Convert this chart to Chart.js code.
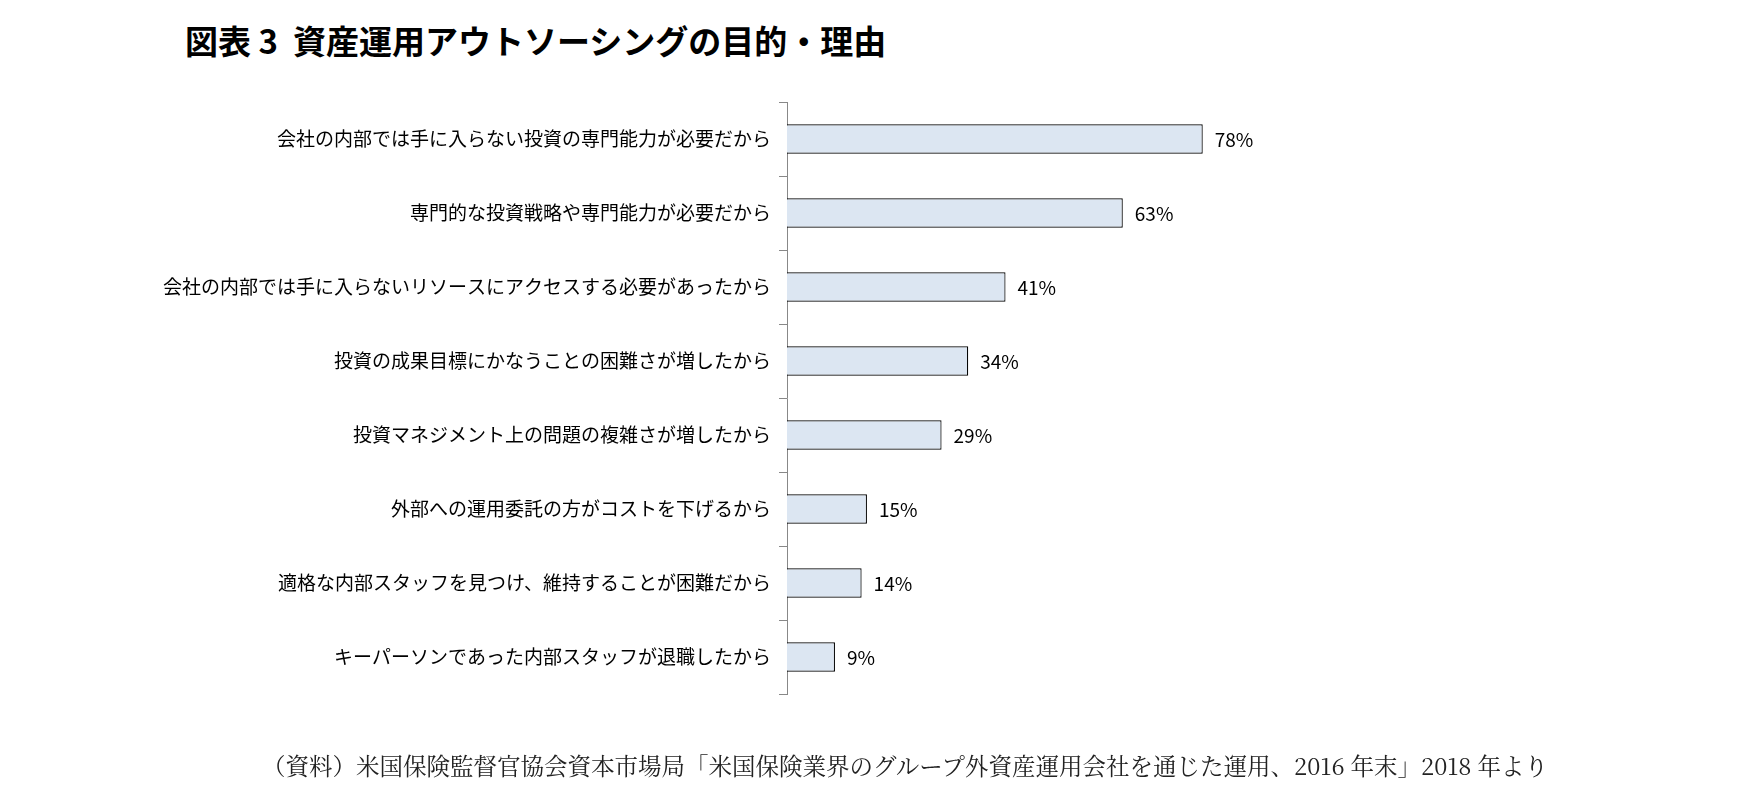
<!DOCTYPE html>
<html lang="ja">
<head>
<meta charset="UTF-8">
<title>資産運用アウトソーシングの目的・理由</title>
<script src="https://cdn.jsdelivr.net/npm/chart.js"></script>
<style>
  body { margin: 0; background: #fff; width: 1739px; height: 798px; position: relative; overflow: hidden; font-family: "Noto Sans CJK JP", sans-serif; }
  #title { position: absolute; left: 185px; top: 16px; font-size: 33px; font-weight: bold; color: #000; }
  #note { position: absolute; left: 262px; top: 748px; font-size: 23.5px; color: #222; font-family: "Noto Serif CJK JP", "Noto Sans CJK JP", serif; }
  #wrap { position: absolute; left: 0; top: 0; width: 1739px; height: 798px; }
</style>
</head>
<body>
<div id="title">図表 3&nbsp; 資産運用アウトソーシングの目的・理由</div>
<div id="wrap"><canvas id="c" width="1739" height="798"></canvas></div>
<div id="note">（資料）米国保険監督官協会資本市場局「米国保険業界のグループ外資産運用会社を通じた運用、2016 年末」2018 年より</div>
<script>
const reasons = [
  "会社の内部では手に入らない投資の専門能力が必要だから",
  "専門的な投資戦略や専門能力が必要だから",
  "会社の内部では手に入らないリソースにアクセスする必要があったから",
  "投資の成果目標にかなうことの困難さが増したから",
  "投資マネジメント上の問題の複雑さが増したから",
  "外部への運用委託の方がコストを下げるから",
  "適格な内部スタッフを見つけ、維持することが困難だから",
  "キーパーソンであった内部スタッフが退職したから"
];
const shares = [78, 63, 41, 34, 29, 15, 14, 9];

const valueLabels = {
  id: 'valueLabels',
  afterDatasetsDraw(chart) {
    const ctx = chart.ctx;
    ctx.save();
    ctx.font = '19px "Noto Sans CJK JP", sans-serif';
    ctx.fillStyle = '#000';
    ctx.textBaseline = 'middle';
    chart.getDatasetMeta(0).data.forEach((bar, i) => {
      ctx.fillText(shares[i] + '%', bar.x + 12, bar.y + 1);
    });
    ctx.restore();
  }
};

new Chart(document.getElementById('c'), {
  type: 'bar',
  data: {
    labels: reasons,
    datasets: [{
      data: shares,
      backgroundColor: '#dce6f2',
      borderColor: '#000',
      borderWidth: 1.2,
      barPercentage: 0.4,
      categoryPercentage: 1
    }]
  },
  options: {
    indexAxis: 'y',
    responsive: false,
    animation: false,
    devicePixelRatio: 1,
    layout: { padding: { left: 0, top: 102, bottom: 104, right: 419 } },
    plugins: { legend: { display: false }, tooltip: { enabled: false } },
    scales: {
      x: { display: false, min: 0, max: 100 },
      y: {
        afterFit: s => { s.width = 787; },
        border: { color: '#888', width: 1 },
        grid: { drawOnChartArea: false, tickLength: 8, color: '#888', offset: true },
        ticks: { color: '#000', padding: 8, font: { size: 19, family: '"Noto Sans CJK JP", sans-serif' } }
      }
    }
  },
  plugins: [valueLabels]
});
</script>
</body>
</html>
